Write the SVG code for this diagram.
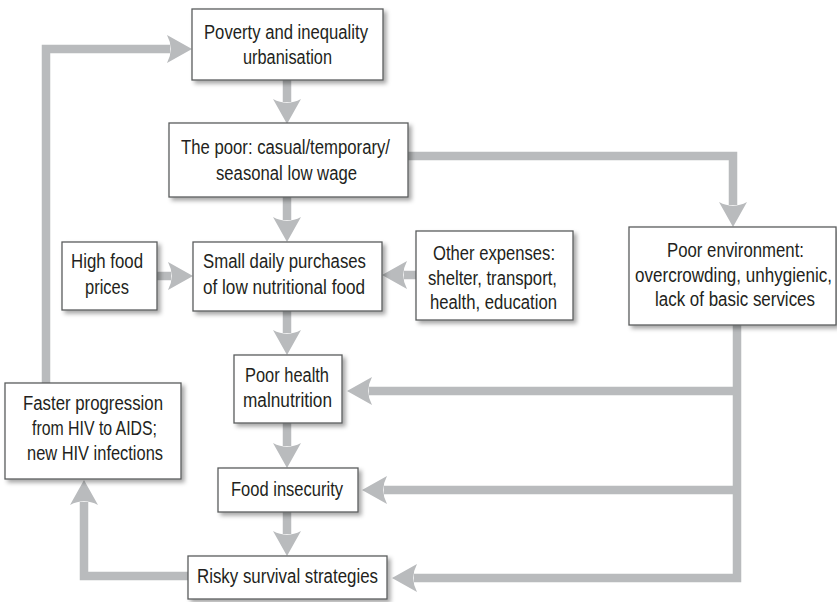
<svg xmlns="http://www.w3.org/2000/svg" width="837" height="602" viewBox="0 0 837 602">
  <defs>
    <filter id="shadow" x="-10%" y="-10%" width="125%" height="135%">
      <feDropShadow dx="3" dy="3" stdDeviation="2.2" flood-color="#000" flood-opacity="0.35"/>
    </filter>
    <!-- barbed arrowhead; the line ends at x=0, the tip sits 22px further on -->
    <marker id="head" markerUnits="userSpaceOnUse" viewBox="-6 -16 30 32" refX="0" refY="0" markerWidth="30" markerHeight="32" orient="auto">
      <path d="M22,0 L-3,-14 Q4.5,0 -3,14 Z" fill="#b9bbbd"/>
    </marker>
  </defs>
  <style>
    .box { fill: #ffffff; stroke: #5b5c5e; stroke-width: 1.3; filter: url(#shadow); }
    .lbl { font-family: "Liberation Sans", Arial, sans-serif; font-size: 20px; fill: #231f20; }
    .link { fill: none; stroke: #b9bbbd; stroke-width: 8.5; stroke-linejoin: miter; stroke-linecap: butt; }
    .arrow { marker-end: url(#head); }
  </style>

  <rect width="837" height="602" fill="#ffffff"/>

  <g id="connectors">
    <path class="link arrow" d="M287,80 V102"/>
    <path class="link arrow" d="M287,197 V220"/>
    <path class="link arrow" d="M287,311 V333"/>
    <path class="link arrow" d="M287,423 V446"/>
    <path class="link arrow" d="M287,512 V534"/>
    <path class="link arrow" d="M157,276 H171"/>
    <path class="link arrow" d="M416,275 H404"/>
    <path class="link arrow" d="M408,156 H733 V205"/>
    <path class="link arrow" d="M737,325 V578 H414"/>
    <path class="link arrow" d="M737,391 H369"/>
    <path class="link arrow" d="M737,490 H384"/>
    <path class="link arrow" d="M188,576 H84 V502"/>
    <path class="link arrow" d="M46,383 V49 H170"/>
  </g>

  <g id="poverty">
    <rect class="box" x="192" y="9" width="191" height="71"/>
    <text class="lbl" x="204" y="39" textLength="164" lengthAdjust="spacingAndGlyphs">Poverty and inequality</text>
    <text class="lbl" x="243" y="64" textLength="89" lengthAdjust="spacingAndGlyphs">urbanisation</text>
  </g>

  <g id="the-poor">
    <rect class="box" x="169" y="123" width="239" height="74"/>
    <text class="lbl" x="181" y="154" textLength="209" lengthAdjust="spacingAndGlyphs">The poor: casual/temporary/</text>
    <text class="lbl" x="216" y="180" textLength="141" lengthAdjust="spacingAndGlyphs">seasonal low wage</text>
  </g>

  <g id="high-food-prices">
    <rect class="box" x="62" y="242" width="95" height="68"/>
    <text class="lbl" x="71" y="268" textLength="72" lengthAdjust="spacingAndGlyphs">High food</text>
    <text class="lbl" x="85" y="294" textLength="44" lengthAdjust="spacingAndGlyphs">prices</text>
  </g>

  <g id="small-purchases">
    <rect class="box" x="193" y="242" width="189" height="69"/>
    <text class="lbl" x="203" y="268" textLength="163" lengthAdjust="spacingAndGlyphs">Small daily purchases</text>
    <text class="lbl" x="203" y="294" textLength="162" lengthAdjust="spacingAndGlyphs">of low nutritional food</text>
  </g>

  <g id="other-expenses">
    <rect class="box" x="416" y="231" width="157" height="89"/>
    <text class="lbl" x="433" y="260" textLength="122" lengthAdjust="spacingAndGlyphs">Other expenses:</text>
    <text class="lbl" x="428" y="285" textLength="129" lengthAdjust="spacingAndGlyphs">shelter, transport,</text>
    <text class="lbl" x="430" y="309" textLength="127" lengthAdjust="spacingAndGlyphs">health, education</text>
  </g>

  <g id="poor-environment">
    <rect class="box" x="629" y="227" width="207" height="98"/>
    <text class="lbl" x="667" y="257" textLength="137" lengthAdjust="spacingAndGlyphs">Poor environment:</text>
    <text class="lbl" x="635" y="282" textLength="197" lengthAdjust="spacingAndGlyphs">overcrowding, unhygienic,</text>
    <text class="lbl" x="655" y="306" textLength="160" lengthAdjust="spacingAndGlyphs">lack of basic services</text>
  </g>

  <g id="poor-health">
    <rect class="box" x="234" y="355" width="108" height="68"/>
    <text class="lbl" x="245" y="382" textLength="84" lengthAdjust="spacingAndGlyphs">Poor health</text>
    <text class="lbl" x="243" y="407" textLength="89" lengthAdjust="spacingAndGlyphs">malnutrition</text>
  </g>

  <g id="faster-progression">
    <rect class="box" x="5" y="383" width="176" height="96"/>
    <text class="lbl" x="23" y="410" textLength="140" lengthAdjust="spacingAndGlyphs">Faster progression</text>
    <text class="lbl" x="32" y="435" textLength="125" lengthAdjust="spacingAndGlyphs">from HIV to AIDS;</text>
    <text class="lbl" x="27" y="460" textLength="136" lengthAdjust="spacingAndGlyphs">new HIV infections</text>
  </g>

  <g id="food-insecurity">
    <rect class="box" x="218" y="468" width="140" height="44"/>
    <text class="lbl" x="231" y="496" textLength="112" lengthAdjust="spacingAndGlyphs">Food insecurity</text>
  </g>

  <g id="risky-strategies">
    <rect class="box" x="188" y="556" width="199" height="43"/>
    <text class="lbl" x="197" y="583" textLength="181" lengthAdjust="spacingAndGlyphs">Risky survival strategies</text>
  </g>
</svg>
